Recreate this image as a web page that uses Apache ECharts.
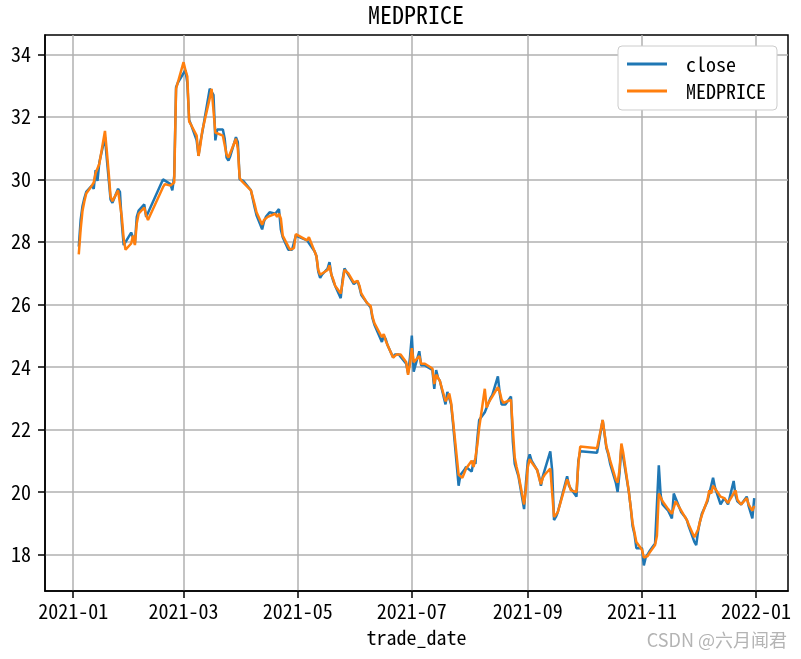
<!DOCTYPE html>
<html>
<head>
<meta charset="utf-8">
<script src="https://cdn.jsdelivr.net/npm/echarts@6/dist/echarts.min.js"></script>
<style>html,body{margin:0;padding:0;background:#fff;}#c{width:801px;height:659px;}</style>
</head>
<body>
<div id="c"></div>
<script>
const dates = [
'2021-01-04','2021-01-05','2021-01-06','2021-01-07','2021-01-08','2021-01-11','2021-01-12','2021-01-13','2021-01-14','2021-01-15',
'2021-01-18','2021-01-19','2021-01-20','2021-01-21','2021-01-22','2021-01-25','2021-01-26','2021-01-27','2021-01-28','2021-01-29',
'2021-02-01','2021-02-02','2021-02-03','2021-02-04','2021-02-05','2021-02-08','2021-02-09','2021-02-10','2021-02-18','2021-02-19',
'2021-02-22','2021-02-23','2021-02-24','2021-02-25','2021-02-26','2021-03-01','2021-03-02','2021-03-03','2021-03-04','2021-03-05',
'2021-03-08','2021-03-09','2021-03-10','2021-03-11','2021-03-12','2021-03-15','2021-03-16','2021-03-17','2021-03-18','2021-03-19',
'2021-03-22','2021-03-23','2021-03-24','2021-03-25','2021-03-26','2021-03-29','2021-03-30','2021-03-31','2021-04-01','2021-04-02',
'2021-04-06','2021-04-07','2021-04-08','2021-04-09','2021-04-12','2021-04-13','2021-04-14','2021-04-15','2021-04-16','2021-04-19',
'2021-04-20','2021-04-21','2021-04-22','2021-04-23','2021-04-26','2021-04-27','2021-04-28','2021-04-29','2021-04-30','2021-05-06',
'2021-05-07','2021-05-10','2021-05-11','2021-05-12','2021-05-13','2021-05-14','2021-05-17','2021-05-18','2021-05-19','2021-05-20',
'2021-05-21','2021-05-24','2021-05-25','2021-05-26','2021-05-27','2021-05-28','2021-05-31','2021-06-01','2021-06-02','2021-06-03',
'2021-06-04','2021-06-07','2021-06-08','2021-06-09','2021-06-10','2021-06-11','2021-06-15','2021-06-16','2021-06-17','2021-06-18',
'2021-06-21','2021-06-22','2021-06-23','2021-06-24','2021-06-25','2021-06-28','2021-06-29','2021-06-30','2021-07-01','2021-07-02',
'2021-07-05','2021-07-06','2021-07-07','2021-07-08','2021-07-09','2021-07-12','2021-07-13','2021-07-14','2021-07-15','2021-07-16',
'2021-07-19','2021-07-20','2021-07-21','2021-07-22','2021-07-23','2021-07-26','2021-07-27','2021-07-28','2021-07-29','2021-07-30',
'2021-08-02','2021-08-03','2021-08-04','2021-08-05','2021-08-06','2021-08-09','2021-08-10','2021-08-11','2021-08-12','2021-08-13',
'2021-08-16','2021-08-17','2021-08-18','2021-08-19','2021-08-20','2021-08-23','2021-08-24','2021-08-25','2021-08-26','2021-08-27',
'2021-08-30','2021-08-31','2021-09-01','2021-09-02','2021-09-03','2021-09-06','2021-09-07','2021-09-08','2021-09-09','2021-09-10',
'2021-09-13','2021-09-14','2021-09-15','2021-09-16','2021-09-17','2021-09-22','2021-09-23','2021-09-24','2021-09-27','2021-09-28',
'2021-09-29','2021-09-30','2021-10-08','2021-10-11','2021-10-12','2021-10-13','2021-10-14','2021-10-15','2021-10-18','2021-10-19',
'2021-10-20','2021-10-21','2021-10-22','2021-10-25','2021-10-26','2021-10-27','2021-10-28','2021-10-29','2021-11-01','2021-11-02',
'2021-11-03','2021-11-04','2021-11-05','2021-11-08','2021-11-09','2021-11-10','2021-11-11','2021-11-12','2021-11-15','2021-11-16',
'2021-11-17','2021-11-18','2021-11-19','2021-11-22','2021-11-23','2021-11-24','2021-11-25','2021-11-26','2021-11-29','2021-11-30',
'2021-12-01','2021-12-02','2021-12-03','2021-12-06','2021-12-07','2021-12-08','2021-12-09','2021-12-10','2021-12-13','2021-12-14',
'2021-12-15','2021-12-16','2021-12-17','2021-12-20','2021-12-21','2021-12-22','2021-12-23','2021-12-24','2021-12-27','2021-12-28',
'2021-12-29','2021-12-30','2021-12-31'
];
const closeVals = [
27.85,28.7,29.15,29.4,29.6,29.8,29.7,30.3,29.95,30.55,
31.35,30.65,30.0,29.35,29.25,29.7,29.6,28.6,27.9,27.85,
28.3,28.25,27.95,28.8,29.0,29.2,28.8,28.75,30.0,29.95,
29.85,29.65,30.1,32.95,33.1,33.4,33.5,33.1,31.9,31.75,
31.25,30.75,31.2,31.5,31.55,32.9,32.85,32.7,31.25,31.6,
31.6,31.3,30.7,30.6,30.75,31.35,31.2,30.0,30.0,29.95,
29.65,29.7,29.1,28.85,28.4,28.65,28.8,28.85,28.95,28.9,
28.85,29.05,28.4,28.15,27.75,27.7,27.75,27.75,28.2,28.05,
28.1,27.7,27.55,27.05,26.85,26.95,27.15,27.35,26.95,26.75,
26.6,26.2,26.8,27.15,27.1,26.95,26.65,26.65,26.75,26.55,
26.3,26.05,26.0,25.9,25.55,25.35,24.8,25.0,24.9,24.7,
24.3,24.4,24.45,24.4,24.35,24.1,23.8,24.3,25.0,23.85,
24.5,24.05,24.1,24.05,24.05,23.9,23.3,23.9,23.65,23.55,
22.8,23.2,23.2,22.8,22.2,20.2,20.55,20.6,20.7,20.8,
20.65,21.0,20.9,21.7,22.3,22.55,22.7,22.85,23.0,23.1,
23.7,23.15,22.8,22.8,22.8,23.05,21.6,20.9,20.7,20.5,
19.45,20.3,21.0,21.2,21.0,20.7,20.5,20.2,20.5,20.55,
21.3,20.7,19.1,19.2,19.35,20.5,20.2,20.1,19.85,21.0,
21.3,21.3,21.25,22.3,22.3,21.4,21.2,20.9,20.3,20.0,
20.6,21.45,21.1,20.0,19.5,18.9,18.65,18.2,18.2,17.65,
17.9,17.9,18.1,18.35,18.3,20.85,19.9,19.6,19.4,19.45,
19.15,19.95,19.8,19.35,19.3,19.2,19.1,18.9,18.4,18.3,
18.75,19.05,19.3,19.7,19.95,20.0,20.45,20.15,19.6,19.65,
19.8,19.8,19.6,20.35,19.9,19.7,19.65,19.6,19.85,19.55,
19.5,19.15,19.8
];
const medVals = [
27.6,28.4,29.0,29.3,29.55,29.8,29.9,30.2,30.35,30.5,
31.55,30.9,30.2,29.45,29.3,29.65,29.7,28.8,28.1,27.75,
27.95,28.2,27.9,28.6,28.9,29.1,28.85,28.7,29.75,29.85,
29.8,29.75,29.9,32.9,32.95,33.75,33.5,33.3,31.85,31.75,
31.4,30.75,31.1,31.55,31.55,32.6,32.9,32.85,31.5,31.45,
31.4,31.35,30.8,30.7,30.75,31.3,31.0,30.05,29.95,30.0,
29.65,29.65,29.2,28.95,28.55,28.7,28.75,28.8,28.85,28.9,
28.8,28.9,28.75,28.2,27.85,27.75,27.75,27.8,28.25,28.05,
28.15,27.7,27.55,27.1,26.95,27.0,27.1,27.25,26.95,26.8,
26.6,26.35,26.7,27.1,27.15,27.0,26.7,26.7,26.75,26.6,
26.35,26.05,26.0,25.95,25.6,25.4,24.95,25.05,24.85,24.7,
24.3,24.35,24.4,24.4,24.4,24.15,23.75,24.1,24.6,24.15,
24.35,24.1,24.1,24.1,24.05,23.95,23.45,23.75,23.7,23.55,
22.9,23.0,23.15,22.85,22.3,20.55,20.5,20.45,20.6,20.75,
21.0,20.8,21.1,21.5,22.05,23.3,22.7,22.85,22.95,23.05,
23.35,23.2,22.95,22.85,22.85,22.95,22.0,21.1,20.8,20.55,
19.6,20.1,20.8,21.05,20.95,20.7,20.45,20.25,20.45,20.55,
20.75,20.7,19.2,19.2,19.35,20.4,20.25,20.05,20.0,20.9,
21.45,21.45,21.4,22.3,22.35,21.45,21.25,21.0,20.4,20.3,
20.7,21.55,21.25,20.0,19.5,19.0,18.7,18.4,18.15,17.9,
17.85,17.95,18.05,18.3,18.6,19.95,19.95,19.7,19.45,19.45,
19.3,19.5,19.7,19.4,19.3,19.25,19.1,18.95,18.55,18.5,
18.8,19.05,19.25,19.75,20.05,19.95,20.2,20.25,19.85,19.8,
19.8,19.8,19.65,19.95,20.05,19.75,19.7,19.6,19.8,19.6,
19.5,19.4,19.55
];
const xTickDates = ['2021-01-01','2021-03-01','2021-05-01','2021-07-01','2021-09-01','2021-11-01','2022-01-01'];
const xTickLabels = ['2021-01','2021-03','2021-05','2021-07','2021-09','2021-11','2022-01'];
const yTicks = [18,20,22,24,26,28,30,32,34];
const seriesNames = ['close','MEDPRICE'];

function ts(s){ const p = s.split('-').map(Number); return Date.UTC(p[0], p[1]-1, p[2]); }
const DAY = 86400000;
const xMin = ts(dates[0]) - 18.05*DAY;
const xMax = ts(dates[dates.length-1]) + 18.05*DAY;
const xTickTs = xTickDates.map(ts);
const labelMap = {};
xTickTs.forEach((t,i)=>{ labelMap[t] = xTickLabels[i]; });

const FONT = "'Noto Sans Mono CJK SC', 'Noto Sans CJK SC', 'DejaVu Sans Mono', monospace";

const chart = echarts.init(document.getElementById('c'), null, {renderer:'canvas'});
chart.setOption({
  animation: false,
  backgroundColor: '#fff',
  title: {
    text: 'MEDPRICE', left: 416, top: 3, padding: 0, textAlign: 'center',
    textStyle: {fontFamily: FONT, fontSize: 24, fontWeight: 'normal', color: '#000'}
  },
  legend: {
    orient: 'vertical', left: 618, top: 46,
    padding: [8, 11, 9, 9], itemWidth: 40, itemHeight: 3, itemGap: 7, icon: 'rect',
    backgroundColor: '#fff', borderColor: '#cccccc', borderWidth: 1, borderRadius: 4,
    data: seriesNames,
    textStyle: {fontFamily: FONT, fontSize: 20, color: '#000', padding: [0,0,0,14]}
  },
  grid: {left: 45, right: 13, top: 35, bottom: 68, show: true, borderColor: '#000', borderWidth: 1.5, backgroundColor: '#fff'},
  xAxis: {
    type: 'value', min: xMin, max: xMax,
    name: 'trade_date', nameLocation: 'middle', nameGap: 36,
    nameTextStyle: {fontFamily: FONT, fontSize: 20, color: '#000'},
    axisLine: {show: true, lineStyle: {color: '#000', width: 1.5}},
    axisTick: {show: true, inside: false, length: 7, lineStyle: {color: '#000', width: 1.5}, customValues: xTickTs},
    axisLabel: {customValues: xTickTs, margin: 10, fontFamily: FONT, fontSize: 20, color: '#000',
      formatter: function(v){ return labelMap[v] !== undefined ? labelMap[v] : ''; }},
    splitLine: {show: true, lineStyle: {color: '#b0b0b0', width: 1.5}}
  },
  yAxis: {
    type: 'value', min: 16.83, max: 34.62,
    axisLine: {show: true, lineStyle: {color: '#000', width: 1.5}},
    axisTick: {show: true, inside: false, length: 7, lineStyle: {color: '#000', width: 1.5}, customValues: yTicks},
    axisLabel: {customValues: yTicks, margin: 14, fontFamily: FONT, fontSize: 20, color: '#000'},
    splitLine: {show: true, lineStyle: {color: '#b0b0b0', width: 1.5}}
  },
  graphic: [{
    type: 'text', right: 14, bottom: 10,
    style: {text: 'CSDN @六月闻君', fontFamily: "'Noto Sans CJK SC', sans-serif", fontSize: 18, fill: '#b4b4b4'}
  }],
  series: [
    {name: seriesNames[0], type: 'line', symbol: 'none', color: '#1f77b4',
     lineStyle: {width: 2.5, color: '#1f77b4'},
     data: dates.map((d,i)=>[ts(d), closeVals[i]])},
    {name: seriesNames[1], type: 'line', symbol: 'none', color: '#ff7f0e',
     lineStyle: {width: 2.5, color: '#ff7f0e'},
     data: dates.map((d,i)=>[ts(d), medVals[i]])}
  ]
});
</script>
</body>
</html>
